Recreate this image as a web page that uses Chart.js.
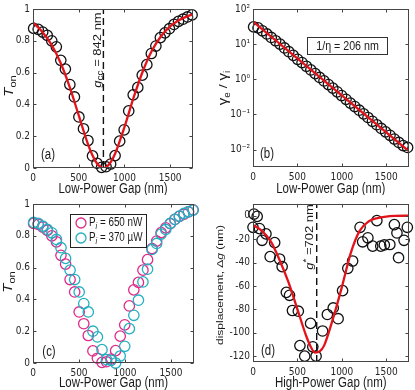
<!DOCTYPE html>
<html><head><meta charset="utf-8">
<script src="https://cdn.jsdelivr.net/npm/chart.js@4/dist/chart.umd.min.js"></script>
<style>
html,body{margin:0;padding:0;background:#fff;}
#wrap{position:relative;width:415px;height:390px;overflow:hidden;background:#fff;}
canvas{position:absolute;}
</style></head><body>
<div id="wrap">
<canvas id="ca" style="left:0;top:0"></canvas>
<canvas id="cb" style="left:207px;top:0"></canvas>
<canvas id="cc" style="left:0;top:195px"></canvas>
<canvas id="cd" style="left:207px;top:195px"></canvas>
</div>
<script>
// ---------------- data ----------------
const gapLow = [7,57,106,156,205,255,304,354,403,453,502,552,601,651,700,750,799,849,898,948,997,1047,1096,1146,1195,1245,1294,1344,1393,1443,1492,1542,1591,1641,1690,1740];
const tonLowPower = [0.878,0.872,0.855,0.834,0.800,0.762,0.677,0.622,0.525,0.447,0.321,0.247,0.173,0.076,0.030,0.004,0.008,0.025,0.078,0.169,0.240,0.359,0.460,0.507,0.584,0.650,0.720,0.767,0.820,0.850,0.876,0.903,0.922,0.936,0.950,0.963];
const tonHighPower = [0.884,0.878,0.861,0.840,0.819,0.777,0.725,0.658,0.584,0.525,0.447,0.374,0.321,0.200,0.164,0.084,0.021,0.017,0.000,0.044,0.105,0.216,0.300,0.395,0.510,0.590,0.714,0.752,0.811,0.840,0.878,0.903,0.924,0.941,0.952,0.962];
const fitGapA = [0,100,200,300,400,500,600,650,700,750,770,800,850,900,1000,1100,1200,1300,1400,1500,1600,1700,1750];
const fitTonA = [0.915,0.857,0.777,0.664,0.512,0.331,0.152,0.080,0.028,0.0024,0,0.0053,0.037,0.093,0.257,0.442,0.607,0.737,0.829,0.891,0.931,0.957,0.966];
const gccPos = 770;
const ratioB = [31,29,24,19.5,15.5,12.5,10.0,7.8,6.1,4.8,3.7,3.0,2.35,1.85,1.45,1.13,0.90,0.71,0.56,0.44,0.345,0.27,0.21,0.168,0.132,0.104,0.082,0.064,0.051,0.040,0.032,0.0255,0.0200,0.0160,0.0130,0.0115];
const fitGapB = [0,1750];
const fitRatioB = [44,0.0092];
const gapHigh = [0,11,47,73,102,146,193,244,299,328,375,411,444,510,528,582,648,673,710,783,837,903,958,1008,1067,1121,1205,1234,1293,1347,1394,1438,1478,1540,1591,1620,1638,1700,1737];
const dispD = [-9.9,1.4,-0.6,-11,-21,-15.5,-35,-23,-37,-43.5,-65.5,-68,-81,-81.6,-111,-120,-92,-112,-120,-98.5,-84.4,-78.8,-88,-64,-45,-38.7,-9.9,-22.3,-18.9,-26,-4.2,-26,-25,-24.6,-7.6,-14.7,-35.9,-21,-9.9];
const fitGapD = [0,100,200,300,400,500,600,650,700,750,800,900,1000,1100,1200,1300,1400,1500,1600,1750];
const fitDispD = [-8,-13,-22,-38,-57,-80,-103,-112,-117,-116,-111,-88,-61,-32,-13,-5,-2,-0.7,-0.2,0];
const gStarPos = 717;
const xTicks = [0,500,1000,1500];
const tonTicks = [0,0.2,0.4,0.6,0.8,1];
const logTicks = [0.01,0.1,1,10,100];
const logTickLabels = ['10\u207B\u00B2','10\u207B\u00B9','10\u2070','10\u00B9','10\u00B2'];
const dispTicks = [-120,-100,-80,-60,-40,-20,0];

// ---------------- style ----------------
const FONT = "'Liberation Sans', Arial, sans-serif";
const TICKFONT = "'Liberation Sans Narrow','DejaVu Sans Condensed','Liberation Sans', sans-serif";
const SX = 0.82;
const TXT = '#1a1a1a';
const RED = '#e3131b';
const MAG = '#e02a8a';
const CYAN = '#22b0c2';

function pts(xs, ys){ return xs.map((x,i)=>({x, y: ys[i]})); }

function rich(ctx, x, y, parts, opt){
  opt = opt || {};
  ctx.save();
  ctx.translate(x, y);
  ctx.scale(SX, 1);
  if (opt.rot) ctx.rotate(opt.rot);
  let w = 0;
  parts.forEach(p => { ctx.font = (p.style||'') + ' ' + p.size + 'px ' + FONT; p.w = ctx.measureText(p.t).width; w += p.w; });
  let cx = opt.align === 'left' ? 0 : -w/2;
  ctx.textBaseline = 'middle'; ctx.textAlign = 'left'; ctx.fillStyle = opt.color || TXT;
  parts.forEach(p => { ctx.font = (p.style||'') + ' ' + p.size + 'px ' + FONT; ctx.fillText(p.t, cx, p.dy||0); cx += p.w; });
  ctx.restore();
}

const drawers = {};
const framePlugin = {
  id: 'frame',
  afterDraw(chart){
    const {ctx, chartArea:a, scales} = chart;
    ctx.save();
    ctx.strokeStyle = '#444'; ctx.lineWidth = 1;
    const L = Math.round(a.left)+0.5, R = Math.round(a.right)-0.5, T = Math.round(a.top)+0.5, B = Math.round(a.bottom)-0.5;
    ctx.strokeRect(L, T, R-L, B-T);
    const tl = 3;
    ctx.beginPath();
    scales.x.ticks.forEach(t => { const p = Math.round(scales.x.getPixelForValue(t.value))+0.5; ctx.moveTo(p,B); ctx.lineTo(p,B-tl); ctx.moveTo(p,T); ctx.lineTo(p,T+tl); });
    scales.y.ticks.forEach(t => { const p = Math.round(scales.y.getPixelForValue(t.value))+0.5; ctx.moveTo(L,p); ctx.lineTo(L+tl,p); ctx.moveTo(R,p); ctx.lineTo(R-tl,p); });
    ctx.stroke();
    ctx.restore();
    const f = drawers[chart.canvas.id];
    if (f) f(chart, ctx);
  }
};

function makeChart(id, W, H, area, datasets, xs, ys){
  const cv = document.getElementById(id);
  cv.width = W; cv.height = H;
  const tickFont = {family: TICKFONT, size: 10};
  const plain = v => String(v);
  return new Chart(cv, {
    type: 'scatter',
    data: {datasets},
    options: {
      responsive: false, animation: false, devicePixelRatio: 1,
      layout: {padding: {left: 0, top: area.top, right: W - area.right, bottom: 0}},
      plugins: {legend: {display: false}, tooltip: {enabled: false}},
      scales: {
        x: Object.assign({
          type: 'linear', grid: {display: false, drawTicks: false}, border: {display: false},
          ticks: {padding: 4, font: tickFont, color: '#262626', maxRotation: 0, autoSkip: false, callback: plain},
          afterFit(s){ s.height = H - area.bottom; },
          afterBuildTicks(s){ s.ticks = xs.ticks.map(v => ({value: v})); }
        }, xs.opts),
        y: Object.assign({
          type: 'linear', grid: {display: false, drawTicks: false}, border: {display: false},
          ticks: {padding: 3, font: tickFont, color: '#262626', autoSkip: false, callback: plain},
          afterFit(s){ s.width = area.left; },
          afterBuildTicks(s){ s.ticks = ys.ticks.map(v => ({value: v})); }
        }, ys.opts)
      }
    },
    plugins: [framePlugin]
  });
}

const circleDs = (xs, ys, color) => ({
  data: pts(xs, ys), showLine: false, pointStyle: 'circle', pointRadius: 5.2,
  pointBorderWidth: 1.3, pointBorderColor: color, pointBackgroundColor: 'rgba(0,0,0,0)', clip: false
});
const fitDs = (xs, ys, mono) => ({
  data: pts(xs, ys), showLine: true, borderColor: RED, borderWidth: 2.3, pointRadius: 0,
  cubicInterpolationMode: mono ? 'monotone' : 'default', tension: 0
});
const vline = (x, y0, y1) => ({
  data: [{x, y: y0}, {x, y: y1}], showLine: true, borderColor: '#111', borderWidth: 1.4,
  borderDash: [7, 4], pointRadius: 0
});

// ---------- (a) ----------
drawers.ca = (chart, ctx) => {
  const a = chart.chartArea, xs = chart.scales.x;
  rich(ctx, (a.left+a.right)/2, 189, [{t:'Low-Power Gap (nm)', size:14}]);
  rich(ctx, 10, 86, [{t:'T', size:15, style:'italic'}, {t:'on', size:11, dy:4}], {rot:-Math.PI/2});
  rich(ctx, xs.getPixelForValue(gccPos)-5, 50, [{t:'g', size:13, style:'italic'}, {t:'cc', size:10, dy:3}, {t:' = 842 nm', size:13}], {rot:-Math.PI/2});
  rich(ctx, a.left+15, a.bottom-13, [{t:'(a)', size:14}]);
};
makeChart('ca', 207, 195, {left:33, right:193, top:9, bottom:168}, [
  fitDs(fitGapA, fitTonA, true),
  vline(gccPos, 0, 1),
  circleDs(gapLow, tonLowPower, '#111')
], {ticks: xTicks, opts: {min: 0, max: 1750}}, {ticks: tonTicks, opts: {min: 0, max: 1}});

// ---------- (b) ----------
drawers.cb = (chart, ctx) => {
  const a = chart.chartArea;
  rich(ctx, (a.left+a.right)/2, 189, [{t:'Low-Power Gap (nm)', size:14}]);
  rich(ctx, 17, 88, [{t:'\u03B3', size:15}, {t:'e', size:10, dy:4}, {t:' / ', size:14}, {t:'\u03B3', size:15}, {t:'i', size:10, dy:4}], {rot:-Math.PI/2});
  ctx.save(); ctx.strokeStyle = '#333'; ctx.lineWidth = 1; ctx.strokeRect(100.5, 37.5, 80, 17); ctx.restore();
  rich(ctx, 140.5, 46, [{t:'1/\u03B7 = 206 nm', size:13}]);
  rich(ctx, a.left+14, a.bottom-13, [{t:'(b)', size:14}]);
};
makeChart('cb', 208, 195, {left:46, right:205, top:9, bottom:167}, [
  fitDs(fitGapB, fitRatioB, false),
  circleDs(gapLow, ratioB, '#111')
], {ticks: xTicks, opts: {min: 0, max: 1750}},
   {ticks: logTicks, opts: {type: 'logarithmic', min: 0.0032, max: 100, ticks: {padding: 3, font: {family: TICKFONT, size: 10}, color: '#262626', autoSkip: false, callback: (v, i) => logTickLabels[i]}}});

// ---------- (c) ----------
drawers.cc = (chart, ctx) => {
  const a = chart.chartArea;
  rich(ctx, (a.left+a.right)/2, 188, [{t:'Low-Power Gap (nm)', size:14}]);
  rich(ctx, 9, 87, [{t:'T', size:15, style:'italic'}, {t:'on', size:11, dy:4}], {rot:-Math.PI/2});
  ctx.save(); ctx.fillStyle = '#fff'; ctx.fillRect(70.5, 19.5, 76, 33); ctx.strokeStyle = '#222'; ctx.lineWidth = 1; ctx.strokeRect(70.5, 19.5, 76, 33);
  ctx.lineWidth = 1.3;
  ctx.strokeStyle = MAG; ctx.beginPath(); ctx.arc(81, 28, 5, 0, Math.PI*2); ctx.stroke();
  ctx.strokeStyle = CYAN; ctx.beginPath(); ctx.arc(81, 43, 5, 0, Math.PI*2); ctx.stroke();
  ctx.restore();
  rich(ctx, 89, 28, [{t:'P', size:12}, {t:'i', size:9, style:'italic', dy:3}, {t:' = 650 nW', size:12}], {align:'left'});
  rich(ctx, 89, 43, [{t:'P', size:12}, {t:'i', size:9, style:'italic', dy:3}, {t:' = 370 \u00B5W', size:12}], {align:'left'});
  rich(ctx, a.left+16, a.bottom-11, [{t:'(c)', size:14}]);
};
makeChart('cc', 207, 195, {left:33, right:194, top:9, bottom:168}, [
  circleDs(gapLow, tonHighPower, CYAN),
  circleDs(gapLow, tonLowPower, MAG)
], {ticks: xTicks, opts: {min: 0, max: 1750}}, {ticks: tonTicks, opts: {min: 0, max: 1}});

// ---------- (d) ----------
drawers.cd = (chart, ctx) => {
  const a = chart.chartArea, xs = chart.scales.x;
  rich(ctx, (a.left+a.right)/2, 188, [{t:'High-Power Gap (nm)', size:14}]);
  rich(ctx, 13, 90, [{t:'displacement, \u0394', size:12}, {t:'g', size:12, style:'italic'}, {t:' (nm)', size:12}], {rot:-Math.PI/2});
  rich(ctx, xs.getPixelForValue(gStarPos)-7, 42, [{t:'g', size:13, style:'italic'}, {t:'*', size:10, dy:-4}, {t:' =702 nm', size:13}], {rot:-Math.PI/2});
  rich(ctx, a.left+15, a.bottom-11, [{t:'(d)', size:14}]);
};
makeChart('cd', 208, 195, {left:46, right:206, top:8, bottom:167}, [
  fitDs(fitGapD, fitDispD, true),
  vline(gStarPos, -125, 10),
  circleDs(gapHigh, dispD, '#111')
], {ticks: xTicks, opts: {min: 0, max: 1750}}, {ticks: dispTicks, opts: {min: -125, max: 10}});
</script>
</body></html>
